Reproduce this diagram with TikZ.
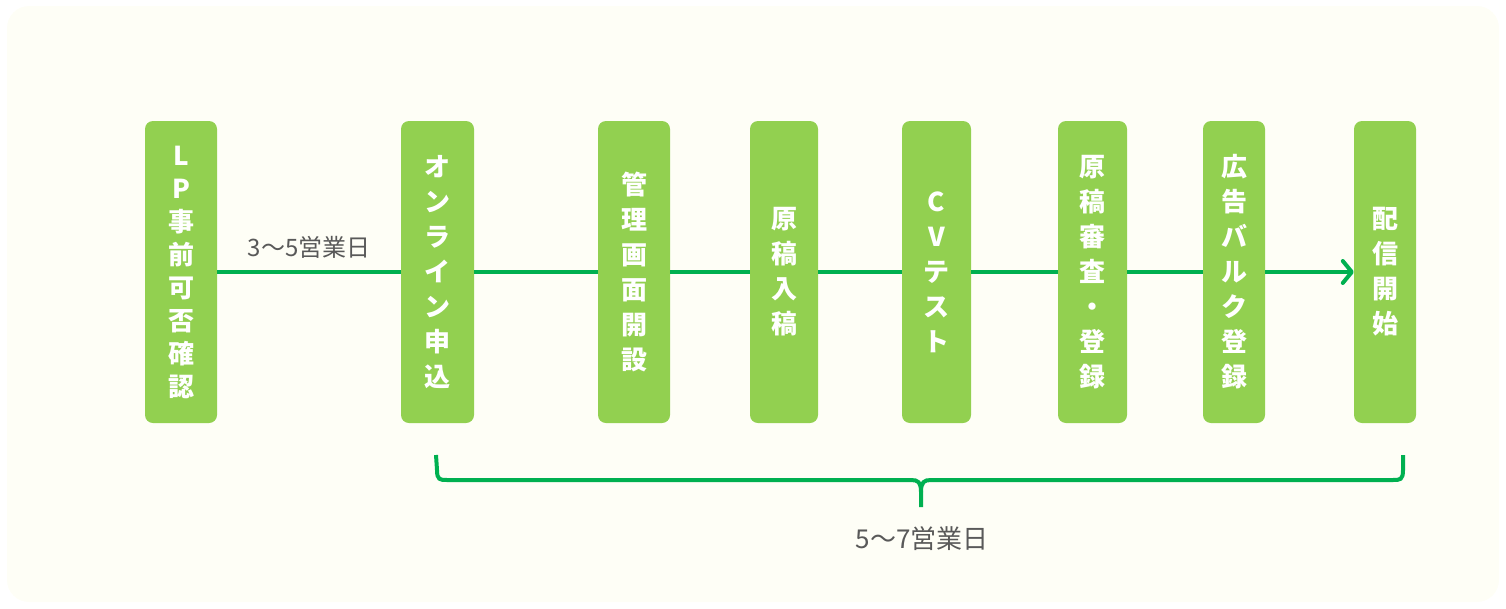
\documentclass[tikz,border=0pt]{standalone}
\usepackage{fontspec}
\newfontfamily\jp{Noto Sans CJK JP}
\usetikzlibrary{arrows.meta}
\definecolor{boxgreen}{RGB}{146,208,80}
\definecolor{linegreen}{RGB}{0,176,80}
\definecolor{cream}{RGB}{254,254,246}
\definecolor{labelgrey}{RGB}{89,89,89}
\tikzset{
  stepbox/.style={rectangle, rounded corners=8pt, fill=boxgreen, text=white,
    inner sep=0pt, minimum height=302pt, align=center,
    font={\jp\bfseries\fontsize{26pt}{35pt}\selectfont}},
  flow/.style={line width=4pt, draw=linegreen},
  lbl/.style={text=labelgrey, inner sep=0pt}
}
\begin{document}
\begin{tikzpicture}[x=1pt,y=-1pt]
\useasboundingbox (0,0) rectangle (1506,608);
\fill[cream, rounded corners=22pt] (7,6) rectangle (1499,602);

\node[stepbox, minimum width=72pt, font={\jp\bfseries\fontsize{26pt}{33pt}\selectfont}] (b1) at (181,272) {L\\P\\事\\前\\可\\否\\確\\認};
\node[stepbox, minimum width=73pt] (b2) at (437.5,272) {オ\\ン\\ラ\\イ\\ン\\申\\込};
\node[stepbox, minimum width=72pt] (b3) at (634,272) {管\\理\\画\\面\\開\\設};
\node[stepbox, minimum width=68pt] (b4) at (784,272) {原\\稿\\入\\稿};
\node[stepbox, minimum width=69pt] (b5) at (936.5,272) {C\\V\\テ\\ス\\ト};
\node[stepbox, minimum width=69pt] (b6) at (1092.5,272) {原\\稿\\審\\査\\・\\登\\録};
\node[stepbox, minimum width=62pt] (b7) at (1234,272) {広\\告\\バ\\ル\\ク\\登\\録};
\node[stepbox, minimum width=62pt] (b8) at (1385,272) {配\\信\\開\\始};

\draw[flow] (b1) -- (b2);
\draw[flow] (b2) -- (b3);
\draw[flow] (b3) -- (b4);
\draw[flow] (b4) -- (b5);
\draw[flow] (b5) -- (b6);
\draw[flow] (b6) -- (b7);
\draw[flow, -{Straight Barb[length=9pt,width=22pt,round]}] (b7) -- (b8);

\node[lbl, font={\jp\fontsize{24pt}{28pt}\selectfont}] (l1) at (309,247) {3〜5営業日};

\coordinate (bl) at (436,455);
\coordinate (bm) at (921,507);
\coordinate (br) at (1403,455);
\draw[flow] (bl) -- (437,470) .. controls (437,480) and (440,480) .. (447,480)
  -- (911,480) .. controls (918,480) and (921,482) .. (921,492) -- (bm);
\draw[flow] (921,492) .. controls (921,482) and (924,480) .. (931,480)
  -- (1393,480) .. controls (1400,480) and (1403,480) .. (1403,470) -- (br);

\node[lbl, font={\jp\fontsize{26pt}{30pt}\selectfont}] (l2) at (922,539) {5〜7営業日};
\end{tikzpicture}
\end{document}
